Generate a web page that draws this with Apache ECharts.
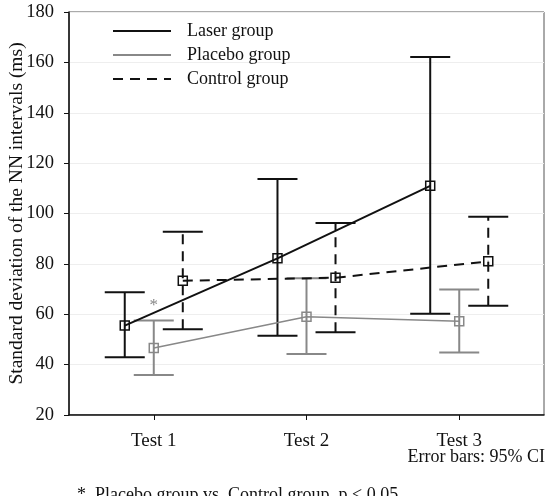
<!DOCTYPE html>
<html><head><meta charset="utf-8">
<script src="https://cdn.jsdelivr.net/npm/echarts@6/dist/echarts.min.js"></script>
<style>html,body{margin:0;padding:0;background:#fff}#c{width:555px;height:496px}</style>
</head><body><div id="c"></div>
<script>
const categories = ['Test 1', 'Test 2', 'Test 3'];
const laserMean = [55.5, 82.2, 111.0];
const laserLow = [42.9, 51.5, 60.2];
const laserHigh = [68.7, 113.7, 162.1];
const placeboMean = [46.6, 59.0, 57.2];
const placeboLow = [35.9, 44.2, 44.8];
const placeboHigh = [57.5, 74.3, 69.8];
const controlMean = [73.3, 74.5, 81.0];
const controlLow = [54.0, 52.9, 63.4];
const controlHigh = [92.8, 96.2, 98.7];
const yTicks = [20, 40, 60, 80, 100, 120, 140, 160, 180];
const sigMark = [[1, 63.6]];

const FONT = 'Liberation Serif';
const OFF = 0.19;

function pts(mean, off) { return mean.map((v, i) => [i + 1 + off, v]); }
function errs(lo, hi, off) { return lo.map((v, i) => [i + 1 + off, v, hi[i]]); }

function errSeries(name, lo, hi, off, color, dashed) {
  return {
    type: 'custom', name: name + ' CI', silent: true, z: 2,
    data: errs(lo, hi, off),
    encode: { x: 0, y: [1, 2] },
    renderItem: function (params, api) {
      const x = api.value(0);
      const a = api.coord([x, api.value(1)]);
      const b = api.coord([x, api.value(2)]);
      const hw = 20;
      const st = { stroke: color, lineWidth: 2 };
      return {
        type: 'group', children: [
          { type: 'line', shape: { x1: a[0], y1: a[1], x2: b[0], y2: b[1] },
            style: Object.assign({}, st, dashed ? { lineDash: [10, 7] } : {}) },
          { type: 'line', shape: { x1: a[0] - hw, y1: a[1], x2: a[0] + hw, y2: a[1] }, style: st },
          { type: 'line', shape: { x1: b[0] - hw, y1: b[1], x2: b[0] + hw, y2: b[1] }, style: st }
        ]
      };
    }
  };
}

function lineSeries(name, mean, off, color, width, dashed) {
  return {
    type: 'line', name: name, z: 3,
    data: pts(mean, off),
    symbol: 'rect', symbolSize: 9,
    itemStyle: { color: 'rgba(0,0,0,0)', borderColor: color, borderWidth: 1.5 },
    lineStyle: { color: color, width: width, type: dashed ? [10, 7] : 'solid' },
    emphasis: { disabled: true }
  };
}

const chart = echarts.init(document.getElementById('c'));
chart.setOption({
  animation: false,
  backgroundColor: '#fff',
  grid: { left: 69, right: 11, top: 12, bottom: 81, show: true, borderColor: '#555', borderWidth: 1,
    containLabel: false, outerBoundsMode: 'none' },
  legend: {
    orient: 'vertical', left: 112, top: 21, padding: 0, itemWidth: 58, itemHeight: 10, itemGap: 4,
    itemStyle: { color: 'rgba(0,0,0,0)', borderColor: 'rgba(0,0,0,0)', borderWidth: 0 },
    textStyle: { fontFamily: FONT, fontSize: 18, color: '#111', padding: [0, 0, 0, 11], lineHeight: 20 },
    data: ['Laser group', 'Placebo group', 'Control group']
  },
  xAxis: {
    type: 'value', min: 0.445, max: 3.555,
    axisLine: { show: true, lineStyle: { color: '#111', width: 1.5 } },
    axisTick: { show: true, customValues: [1, 2, 3], length: 5, lineStyle: { color: '#111' } },
    axisLabel: { customValues: [1, 2, 3], formatter: v => categories[Math.round(v) - 1] || '',
      fontFamily: FONT, fontSize: 19, color: '#111', margin: 17 },
    splitLine: { show: false }
  },
  yAxis: {
    type: 'value', min: 20, max: 180, interval: 20,
    name: 'Standard deviation of the NN intervals (ms)', nameLocation: 'middle', nameGap: 42,
    nameMoveOverlap: false,
    nameTextStyle: { fontFamily: FONT, fontSize: 19.5, color: '#111' },
    axisLine: { show: true, lineStyle: { color: '#111', width: 1.5 } },
    axisTick: { show: true, length: 5, lineStyle: { color: '#111' } },
    axisLabel: { fontFamily: FONT, fontSize: 18.5, color: '#111', margin: 15,
      formatter: v => yTicks.includes(v) ? String(v) : '' },
    splitLine: { show: true, lineStyle: { color: '#eeeeee', width: 1 } }
  },
  graphic: [
    { type: 'text', right: 10, top: 448, style: { text: 'Error bars: 95% CI', font: '18px ' + FONT, fill: '#111' } },
    { type: 'text', left: 77, top: 486, style: { text: '*  Placebo group vs. Control group, p < 0.05', font: '18px ' + FONT, fill: '#111' } }
  ],
  series: [
    errSeries('Laser group', laserLow, laserHigh, -OFF, '#111', false),
    errSeries('Placebo group', placeboLow, placeboHigh, 0, '#888', false),
    errSeries('Control group', controlLow, controlHigh, OFF, '#111', true),
    lineSeries('Laser group', laserMean, -OFF, '#111', 2, false),
    lineSeries('Placebo group', placeboMean, 0, '#888', 1.5, false),
    lineSeries('Control group', controlMean, OFF, '#111', 2, true),
    { type: 'scatter', name: 'sig', data: sigMark, symbolSize: 1, itemStyle: { color: 'rgba(0,0,0,0)' },
      label: { show: true, formatter: '*', position: 'inside', fontFamily: FONT, fontSize: 17, color: '#666' }, z: 4 }
  ]
});
</script></body></html>
